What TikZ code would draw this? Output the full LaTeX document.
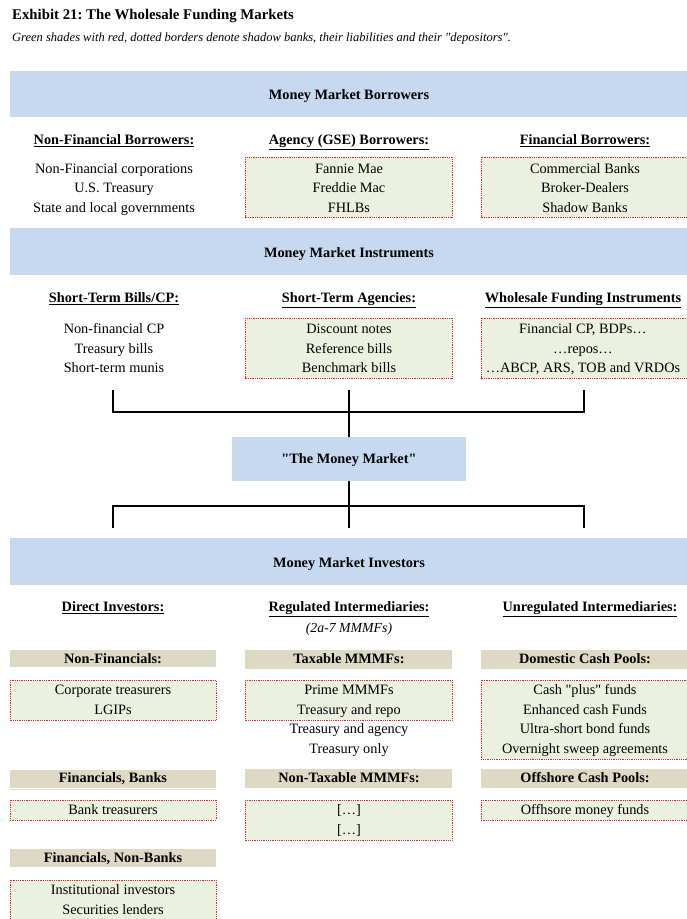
\documentclass[tikz,border=0pt]{standalone}
\usepackage{fontspec}
\setmainfont{Liberation Serif}
\newfontfamily\qfont{Liberation Serif}
\frenchspacing
\definecolor{bandblue}{HTML}{C6D9F1}
\definecolor{shgreen}{HTML}{EBF1DE}
\definecolor{tan}{HTML}{DDD9C4}
\definecolor{dotred}{HTML}{E8262A}
\newcommand{\dq}{{\qfont\symbol{34}}}
\tikzset{
  txt/.style={inner sep=0pt, anchor=base, yshift=-4.8pt, font=\fontsize{14.3}{16}\selectfont},
  hdr/.style={txt, font=\fontsize{14.3}{16}\selectfont\bfseries},
  band/.style={fill=bandblue, draw=none},
  shadow/.style={fill=shgreen, draw=dotred, densely dotted, line width=0.8pt},
  tanbar/.style={fill=tan, draw=none},
  conn/.style={draw=black, line width=1.6pt},
}
\begin{document}
\begin{tikzpicture}[x=1pt,y=-1pt]
\useasboundingbox (0,0) rectangle (686,919);
% title
\node[anchor=base west, inner sep=0pt, font=\fontsize{14.8}{16}\selectfont\bfseries] (title) at (12,19) {Exhibit 21: The Wholesale Funding Markets};
\node[anchor=base west, inner sep=0pt, font=\fontsize{12.5}{14}\selectfont\itshape] (sub) at (12,41) {Green shades with red, dotted borders denote shadow banks, their liabilities and their \dq depositors\dq .};

% band 1
\path[band] (10,71) rectangle (690,117);
\node[hdr] (b1) at (349,95) {Money Market Borrowers};
\node[hdr] (h11) at (114,140) {\underline{Non-Financial Borrowers:}};
\node[hdr] (h12) at (349,140) {\underline{Agency (GSE) Borrowers:}};
\node[hdr] (h13) at (585,140) {\underline{Financial Borrowers:}};
\path[shadow] (245,157) rectangle (452,217);
\path[shadow] (481,157) rectangle (690,217);
\node[txt] (t111) at (114,169) {Non-Financial corporations};
\node[txt] (t112) at (114,188) {U.S. Treasury};
\node[txt] (t113) at (114,208) {State and local governments};
\node[txt] (t121) at (349,169) {Fannie Mae};
\node[txt] (t122) at (349,188) {Freddie Mac};
\node[txt] (t123) at (349,208) {FHLBs};
\node[txt] (t131) at (585,169) {Commercial Banks};
\node[txt] (t132) at (585,188) {Broker-Dealers};
\node[txt] (t133) at (585,208) {Shadow Banks};

% band 2
\path[band] (10,228) rectangle (690,275);
\node[hdr] (b2) at (349,253) {Money Market Instruments};
\node[hdr] (h21) at (114,298) {\underline{Short-Term Bills/CP:}};
\node[hdr] (h22) at (349,298) {\underline{Short-Term Agencies:}};
\node[hdr] (h23) at (583,298) {\underline{Wholesale Funding Instruments}};
\path[shadow] (245,318) rectangle (452,378);
\path[shadow] (481,318) rectangle (690,378);
\node[txt] (t211) at (114,329) {Non-financial CP};
\node[txt] (t212) at (114,349) {Treasury bills};
\node[txt] (t213) at (114,368) {Short-term munis};
\node[txt] (t221) at (349,329) {Discount notes};
\node[txt] (t222) at (349,349) {Reference bills};
\node[txt] (t223) at (349,368) {Benchmark bills};
\node[txt] (t231) at (583,329) {Financial CP, BDPs\ldots};
\node[txt] (t232) at (583,349) {\ldots repos\ldots};
\node[txt] (t233) at (583,368) {\ldots ABCP, ARS, TOB and VRDOs};

% money market
\node[band, minimum width=234pt, minimum height=44pt, inner sep=0pt] (mm) at (349,459) {};
\node[hdr] (mmt) at (349,459) {\dq The Money Market\dq};
\coordinate (u1) at (113,390);
\coordinate (u2) at (349,390);
\coordinate (u3) at (584,390);
\coordinate (ujoin) at (349,412);
\coordinate (d1) at (113,528);
\coordinate (d2) at (349,528);
\coordinate (d3) at (584,528);
\coordinate (djoin) at (349,506);
\draw[conn] (u1) |- (ujoin) -| (u3);
\draw[conn] (u2) -- (mm.north);
\draw[conn] (mm.south) -- (d2);
\draw[conn] (d1) |- (djoin) -| (d3);

% band 3
\path[band] (10,538) rectangle (690,585);
\node[hdr] (b3) at (349,563) {Money Market Investors};
\node[hdr] (h31) at (113,607) {\underline{Direct Investors:}};
\node[hdr] (h32) at (349,607) {\underline{Regulated Intermediaries:}};
\node[hdr] (h33) at (590,607) {\underline{Unregulated Intermediaries:}};
\node[txt, font=\fontsize{13.8}{16}\selectfont\itshape] (h32b) at (349,628) {(2a-7 MMMFs)};

% tan row 1
\path[tanbar] (10,650) rectangle (216,667);
\path[tanbar] (245,650) rectangle (452,669);
\path[tanbar] (481,650) rectangle (690,669);
\node[hdr] (c1) at (113,659) {Non-Financials:};
\node[hdr] (c2) at (349,659) {Taxable MMMFs:};
\node[hdr] (c3) at (585,659) {Domestic Cash Pools:};
\path[shadow] (10,680) rectangle (216,720);
\path[shadow] (245,680) rectangle (452,720);
\path[shadow] (481,680) rectangle (690,759);
\node[txt] (l1) at (113,690) {Corporate treasurers};
\node[txt] (l2) at (113,710) {LGIPs};
\node[txt] (m1) at (349,690) {Prime MMMFs};
\node[txt] (m2) at (349,710) {Treasury and repo};
\node[txt] (m3) at (349,729) {Treasury and agency};
\node[txt] (m4) at (349,749) {Treasury only};
\node[txt] (r1) at (585,690) {Cash \dq plus\dq{} funds};
\node[txt] (r2) at (585,710) {Enhanced cash Funds};
\node[txt] (r3) at (585,729) {Ultra-short bond funds};
\node[txt] (r4) at (585,749) {Overnight sweep agreements};

% tan row 2
\path[tanbar] (10,770) rectangle (216,788);
\draw[tan, line width=0.6pt] (10,789.5) -- (216,789.5);
\path[tanbar] (245,769) rectangle (452,788);
\path[tanbar] (481,769) rectangle (690,788);
\node[hdr] (c4) at (113,778) {Financials, Banks};
\node[hdr] (c5) at (349,778) {Non-Taxable MMMFs:};
\node[hdr] (c6) at (585,778) {Offshore Cash Pools:};
\path[shadow] (10,800) rectangle (216,820);
\path[shadow] (245,800) rectangle (452,840);
\path[shadow] (481,800) rectangle (690,820);
\node[txt] (l3) at (113,810) {Bank treasurers};
\node[txt] (m5) at (349,810) {[\ldots]};
\node[txt] (m6) at (349,830) {[\ldots]};
\node[txt] (r5) at (585,810) {Offhsore money funds};

% tan row 3
\path[tanbar] (10,849) rectangle (216,867);
\node[hdr] (c7) at (113,858) {Financials, Non-Banks};
\path[shadow] (10,880) rectangle (216,925);
\node[txt] (l4) at (113,890) {Institutional investors};
\node[txt] (l5) at (113,910) {Securities lenders};
\end{tikzpicture}
\end{document}
